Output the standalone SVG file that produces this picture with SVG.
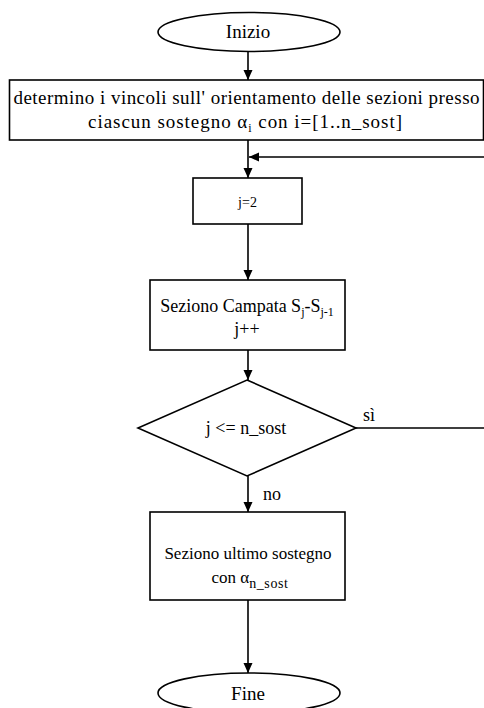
<svg xmlns="http://www.w3.org/2000/svg" width="484" height="708" viewBox="0 0 484 708">
<style>
  .shape { fill: #ffffff; stroke: #000000; stroke-width: 1.6; }
  .conn { fill: none; stroke: #000000; stroke-width: 1.6; }
  text { font-family: 'Liberation Serif', 'Times New Roman', Times, serif; font-size: 18px; fill: #000000; }
  .mid { text-anchor: middle; }
  .sub { font-size: 12px; }
</style>
<defs>
  <marker id="arrow" markerUnits="userSpaceOnUse" markerWidth="10" markerHeight="12" viewBox="0 0 10 12" refX="10" refY="6" orient="auto">
    <path d="M0,1.5 L10,6 L0,10.5 Z" fill="#000000"/>
  </marker>
</defs>
<rect width="484" height="708" fill="#ffffff"/>

<g id="connectors">
  <line class="conn" x1="248" y1="52" x2="248" y2="80" marker-end="url(#arrow)"/>
  <line class="conn" x1="248" y1="140" x2="248" y2="178" marker-end="url(#arrow)"/>
  <line class="conn" x1="248" y1="224" x2="248" y2="280" marker-end="url(#arrow)"/>
  <line class="conn" x1="248" y1="350" x2="248" y2="380" marker-end="url(#arrow)"/>
  <line class="conn" x1="248" y1="476" x2="248" y2="512" marker-end="url(#arrow)"/>
  <line class="conn" x1="248" y1="600" x2="248" y2="673" marker-end="url(#arrow)"/>
  <path class="conn" d="M356,428 H492 V157 H249" marker-end="url(#arrow)"/>
  <text x="363" y="421">sì</text>
  <text x="263" y="500">no</text>
</g>

<g id="inizio">
  <ellipse class="shape" cx="249" cy="32" rx="91" ry="19.5"/>
  <text class="mid" x="248" y="38" style="font-size:19px">Inizio</text>
</g>

<g id="vincoli">
  <rect class="shape" x="9.5" y="80" width="474" height="60"/>
  <text class="mid" x="246.5" y="104" style="font-size:19px" textLength="466" lengthAdjust="spacing">determino i vincoli sull' orientamento delle sezioni presso</text>
  <text class="mid" x="245" y="128" style="font-size:19px" textLength="314" lengthAdjust="spacing">ciascun sostegno α<tspan class="sub" dy="4">i</tspan><tspan dy="-4"> con i=[1..n_sost]</tspan></text>
</g>

<g id="init-j">
  <rect class="shape" x="193" y="178" width="109" height="46"/>
  <text class="mid" x="247.5" y="207" style="font-size:14px">j=2</text>
</g>

<g id="campata">
  <rect class="shape" x="150" y="280" width="195" height="70"/>
  <text class="mid" x="247" y="312">Seziono Campata S<tspan class="sub" dy="4">j</tspan><tspan dy="-4">-S</tspan><tspan class="sub" dy="4">j-1</tspan></text>
  <text class="mid" x="247" y="335">j++</text>
</g>

<g id="test">
  <polygon class="shape" points="247,380 356,428 247,476 138,428"/>
  <text class="mid" x="246" y="434">j &lt;= n_sost</text>
</g>

<g id="ultimo">
  <rect class="shape" x="150" y="512" width="195" height="88"/>
  <text class="mid" x="248" y="559" style="font-size:17px">Seziono ultimo sostegno</text>
  <text class="mid" x="250" y="583" style="font-size:17px">con α<tspan style="font-size:14px; letter-spacing:0.6px" dy="5">n_sost</tspan></text>
</g>

<g id="fine">
  <ellipse class="shape" cx="249" cy="693" rx="91" ry="20"/>
  <text class="mid" x="248" y="700" style="font-size:19px">Fine</text>
</g>
</svg>
